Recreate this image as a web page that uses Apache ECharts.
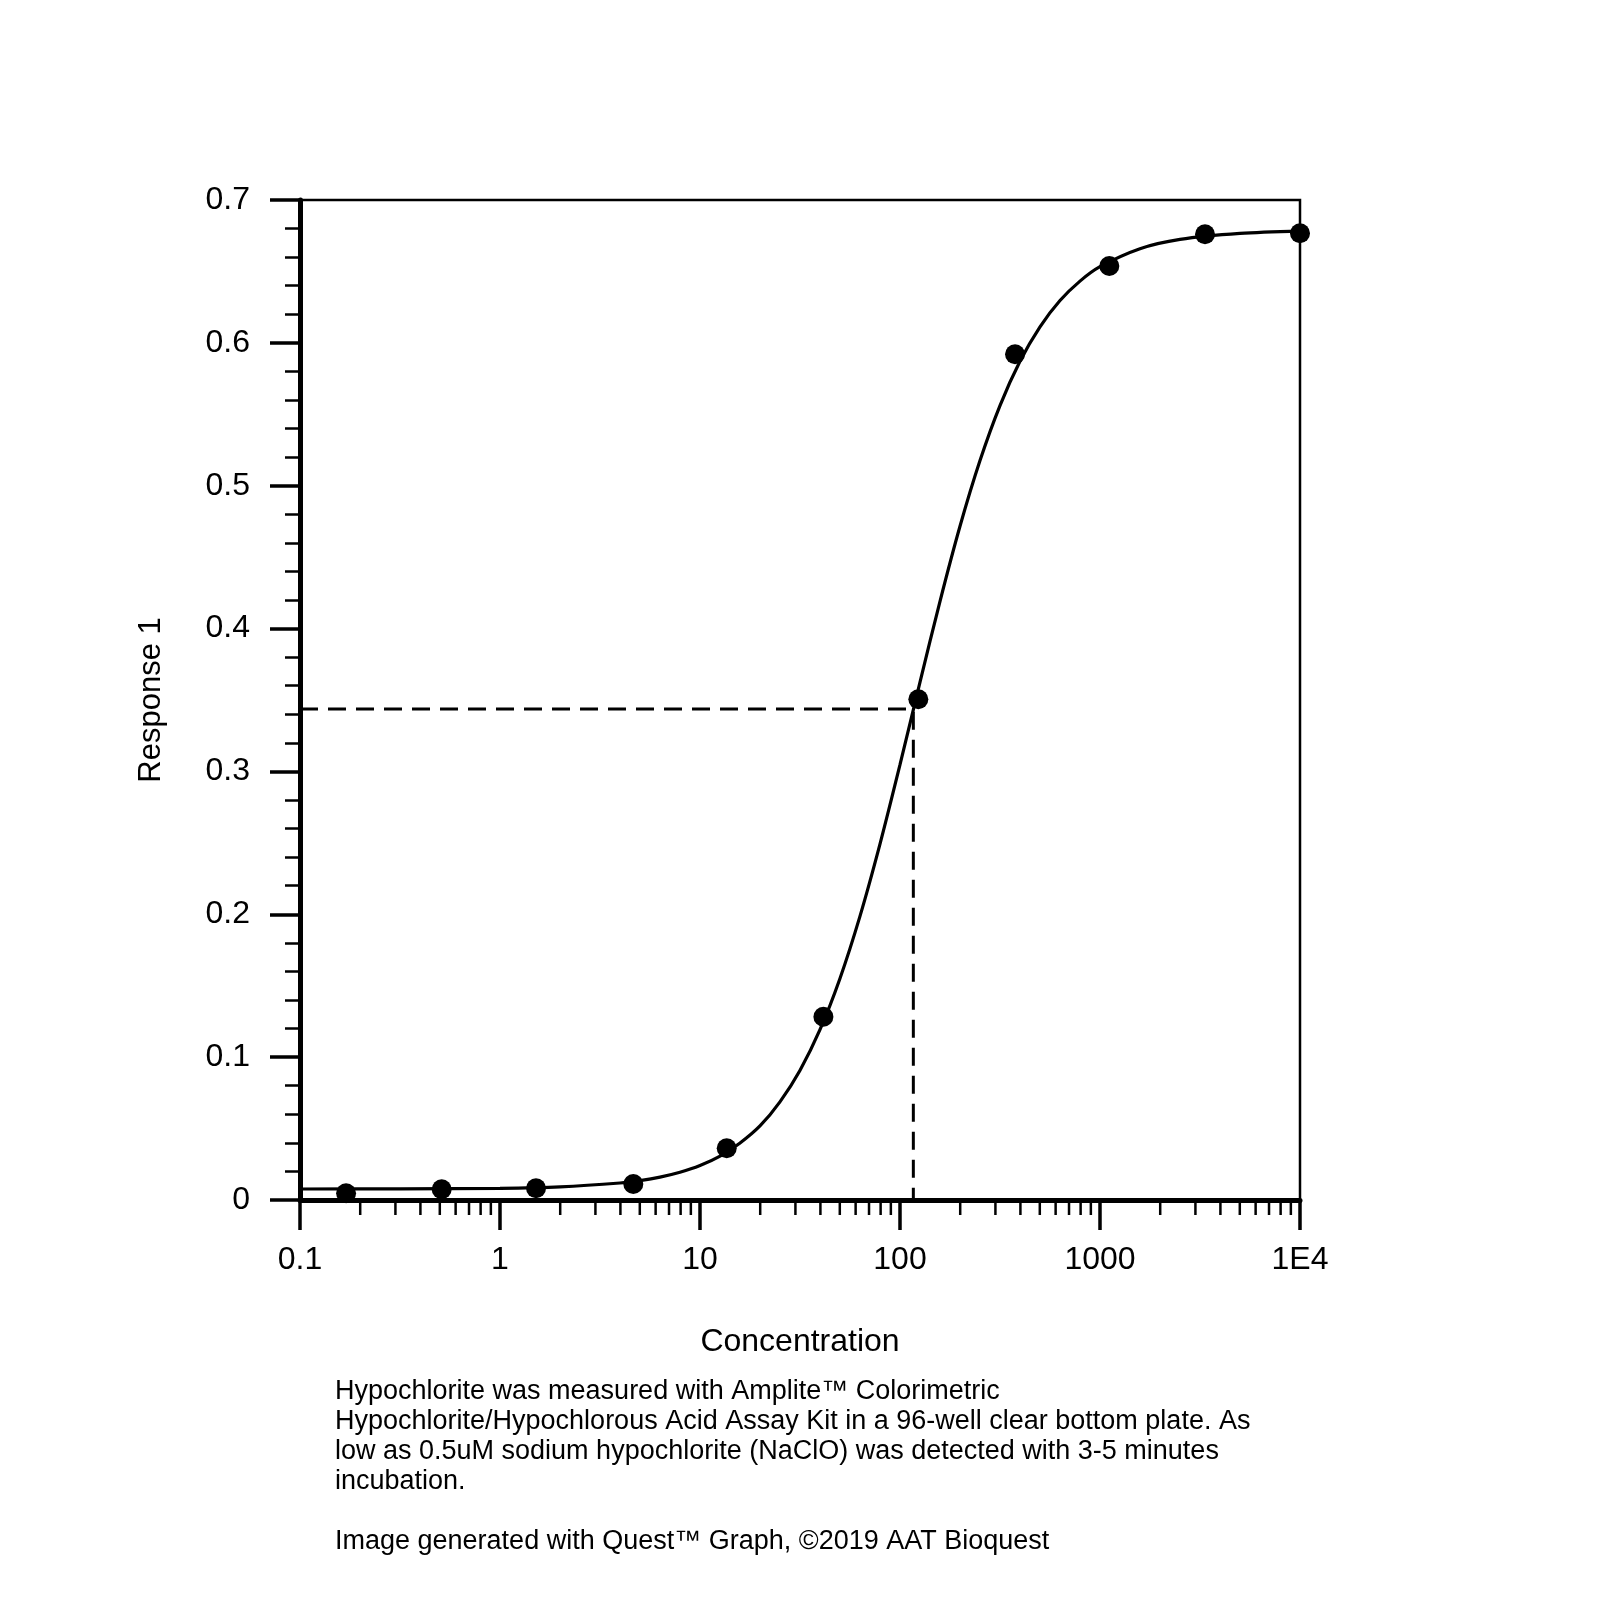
<!DOCTYPE html>
<html>
<head>
<meta charset="utf-8">
<script src="https://cdn.jsdelivr.net/npm/echarts@6/dist/echarts.min.js"></script>
<style>
html,body{margin:0;padding:0;background:#fff;}
#chart{width:1600px;height:1610px;}
</style>
</head>
<body>
<div id="chart"></div>
<script>
// Measured points
const pointX = [0.17, 0.511, 1.514, 4.64, 13.6, 41.4, 123.5, 376, 1113, 3350, 10000];
const pointY = [0.0047, 0.0075, 0.0082, 0.0112, 0.0362, 0.1283, 0.3505, 0.592, 0.6538, 0.676, 0.6767];

// Fitted curve
const curveX = [0.1, 0.316, 1, 2, 3.98, 5.01, 6.31, 7.94, 10, 12.6, 15.8, 20, 25.1, 31.6, 39.8, 50.1, 63.1, 79.4, 100, 125.9, 158.5, 199.5, 251.2, 316.2, 398.1, 501.2, 631, 794.3, 1000, 1585, 2512, 5012, 10000];
const curveY = [0.0077, 0.0078, 0.0082, 0.0092, 0.0119, 0.0136, 0.0160, 0.0194, 0.0241, 0.0307, 0.0397, 0.0520, 0.0687, 0.0907, 0.1192, 0.1551, 0.1987, 0.2491, 0.3047, 0.3625, 0.4191, 0.4716, 0.5176, 0.5561, 0.5871, 0.6112, 0.6296, 0.6432, 0.6533, 0.6659, 0.6724, 0.6766, 0.6782];

// Dashed guide (EC50 reading)
const guideX = [0.1, 116.6, 116.6];
const guideY = [0.3437, 0.3437, 0];

// Axis ticks
const xTickLabels = {'-1': '0.1', '0': '1', '1': '10', '2': '100', '3': '1000', '4': '1E4'};
const xMinorTicks = [];
[0.1, 1, 10, 100, 1000].forEach(function (d) {
  [2, 3, 4, 5, 6, 7, 8, 9].forEach(function (m) { xMinorTicks.push(+(d * m).toPrecision(3)); });
});

const captionLines = [
  'Hypochlorite was measured with Amplite\u2122 Colorimetric',
  'Hypochlorite/Hypochlorous Acid Assay Kit in a 96-well clear bottom plate. As',
  'low as 0.5uM sodium hypochlorite (NaClO) was detected with 3-5 minutes',
  'incubation.',
  '',
  'Image generated with Quest\u2122 Graph, \u00a92019 AAT Bioquest'
];

const FONT = '"Liberation Sans", Arial, sans-serif';
const chart = echarts.init(document.getElementById('chart'));

function zip(a, b) { return a.map(function (v, i) { return [v, b[i]]; }); }

chart.setOption({
  backgroundColor: '#fff',
  animation: false,
  grid: { left: 300, top: 200, width: 1000, height: 1000, show: true, borderColor: '#000', borderWidth: 2.5, backgroundColor: 'transparent' },
  xAxis: {
    type: 'log', logBase: 10, min: 0.1, max: 10000,
    name: 'Concentration', nameLocation: 'middle', nameGap: 126,
    nameTextStyle: { color: '#000', fontSize: 32, fontFamily: FONT },
    axisLine: { show: true, lineStyle: { color: '#000', width: 5 } },
    axisTick: { show: true, length: 30, lineStyle: { color: '#000', width: 3.5 } },
    minorTick: { show: false },
    splitLine: { show: false },
    axisLabel: {
      color: '#000', fontSize: 32, fontFamily: FONT, margin: 44,
      formatter: function (v) { return xTickLabels[String(Math.round(Math.log10(v)))] || ''; }
    }
  },
  yAxis: {
    type: 'value', min: 0, max: 0.7, interval: 0.1,
    name: 'Response 1', nameLocation: 'middle', nameGap: 133,
    nameTextStyle: { color: '#000', fontSize: 31, fontFamily: FONT },
    axisLine: { show: true, lineStyle: { color: '#000', width: 5 } },
    axisTick: { show: true, length: 30, lineStyle: { color: '#000', width: 3.5 } },
    minorTick: { show: true, splitNumber: 5, length: 15, lineStyle: { color: '#000', width: 2.5 } },
    splitLine: { show: false },
    minorSplitLine: { show: false },
    axisLabel: {
      color: '#000', fontSize: 32, fontFamily: FONT, margin: 50,
      formatter: function (v) { return v === 0 ? '0' : v.toFixed(1); }
    }
  },
  series: [
    {
      type: 'custom', name: 'minorTicks', clip: false, silent: true, z: 5,
      data: xMinorTicks.map(function (v) { return [v, 0]; }),
      renderItem: function (params, api) {
        const p = api.coord([api.value(0), 0]);
        return { type: 'line', shape: { x1: p[0], y1: p[1], x2: p[0], y2: p[1] + 15 }, style: { stroke: '#000', lineWidth: 2.5 } };
      }
    },
    {
      type: 'line', name: 'guide', data: zip(guideX, guideY), symbol: 'none', z: 2,
      lineStyle: { color: '#000', width: 3, type: [18, 10] }
    },
    {
      type: 'line', name: 'fit', data: zip(curveX, curveY), symbol: 'none', smooth: 0.3, z: 3,
      lineStyle: { color: '#000', width: 3.2 }
    },
    {
      type: 'scatter', name: 'data', data: zip(pointX, pointY), symbol: 'circle', symbolSize: 20, z: 4,
      itemStyle: { color: '#000', opacity: 1 }
    }
  ],
  graphic: [
    {
      type: 'text', left: 335, top: 1377,
      style: { text: captionLines.join('\n'), fill: '#000', font: '27px ' + FONT, lineHeight: 30 }
    }
  ]
});
</script>
</body>
</html>
